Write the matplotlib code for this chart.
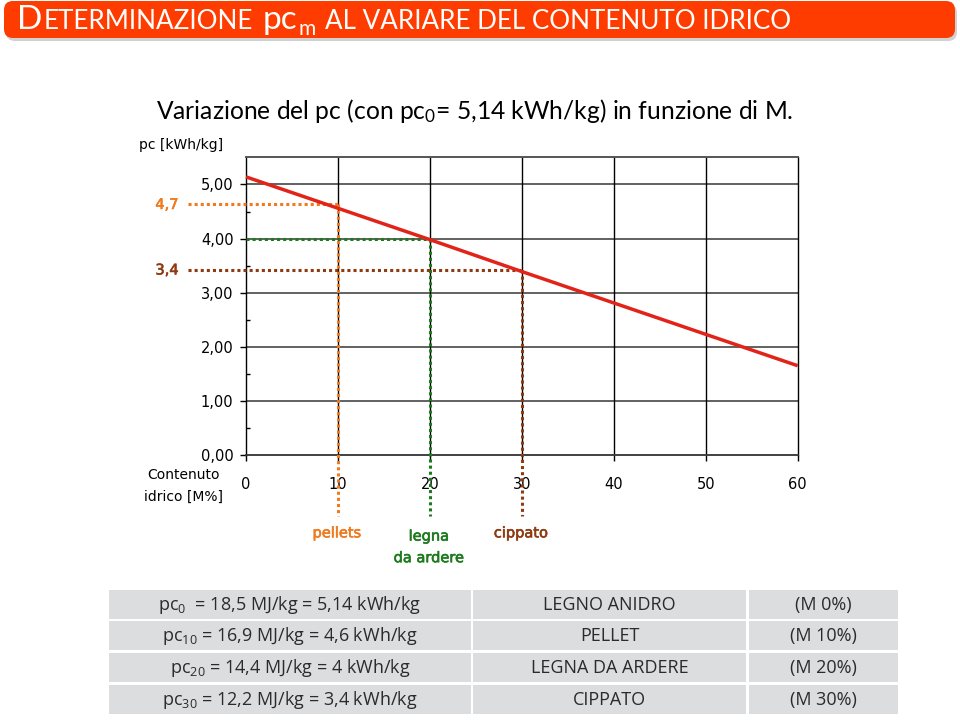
import matplotlib
matplotlib.use("Agg")
import matplotlib.pyplot as plt
import matplotlib.patheffects as pe
from matplotlib.patches import FancyBboxPatch, Rectangle
from matplotlib.ticker import FixedLocator

# ---------------- data ----------------
moisture = [0, 10, 20, 30, 40, 50, 60]
pc_values = [5.14, 4.56, 3.98, 3.39, 2.81, 2.23, 1.65]
x_ticks = [0, 10, 20, 30, 40, 50, 60]
x_tick_labels = ["0", "10", "20", "30", "40", "50", "60"]
y_ticks = [0, 1, 2, 3, 4, 5]
y_tick_labels = ["0,00", "1,00", "2,00", "3,00", "4,00", "5,00"]

fuel_names = ["pellets", "legna\nda ardere", "cippato"]
fuel_moisture = [10, 20, 30]
fuel_pc = [4.63, 4.0, 3.42]
fuel_pc_labels = ["4,7", "", "3,4"]
fuel_colors = ["#F07A1E", "#1F7A1F", "#8E3B12"]

table_col1 = [r"pc$_{0}$  = 18,5 MJ/kg = 5,14 kWh/kg",
              r"pc$_{10}$ = 16,9 MJ/kg = 4,6 kWh/kg",
              r"pc$_{20}$ = 14,4 MJ/kg = 4 kWh/kg",
              r"pc$_{30}$ = 12,2 MJ/kg = 3,4 kWh/kg"]
table_col2 = ["LEGNO ANIDRO", "PELLET", "LEGNA DA ARDERE", "CIPPATO"]
table_col3 = ["(M 0%)", "(M 10%)", "(M 20%)", "(M 30%)"]

# ---------------- figure ----------------
W, H = 960, 721
plt.rcParams['mathtext.default'] = 'regular'
fig = plt.figure(figsize=(W / 100, H / 100), dpi=100)
fig.patch.set_facecolor("white")

# background axes in pixel coordinates
bg = fig.add_axes([0, 0, 1, 1], zorder=0)
bg.set_xlim(0, W)
bg.set_ylim(H, 0)
bg.axis("off")

# title bar
shadow = FancyBboxPatch((6, 4), 951, 37, boxstyle="round,pad=0,rounding_size=9",
                        fc="#9a9a9a", ec="none", alpha=0.45)
bg.add_patch(shadow)
bar = FancyBboxPatch((4, 1), 951, 37, boxstyle="round,pad=0,rounding_size=9",
                     fc="#FE3C00", ec="none")
bg.add_patch(bar)

renderer = fig.canvas.get_renderer()
pieces = [("D", 24, 0, 1), ("ETERMINAZIONE", 18.7, 0, 10), ("pc", 24, 0, 1),
          ("m", 15, 6, 9), ("AL VARIARE DEL CONTENUTO IDRICO", 18.7, 0, 0)]
xcur = 17
for txt, size, dy, gap in pieces:
    t = bg.text(xcur, 29 + dy, txt, fontsize=size, color="white", family="Lato",
                ha="left", va="baseline")
    bb = t.get_window_extent(renderer)
    xcur += bb.width + gap

# chart title
bg.text(475, 119, "Variazione del pc (con pc$_{0}$= 5,14 kWh/kg) in funzione di M.",
        fontsize=17.7, family="Lato", color="black", ha="center", va="baseline")
bg.text(181, 145, "pc [kWh/kg]", fontsize=10, family="DejaVu Sans", color="black",
        ha="center", va="center")
bg.text(184, 486, "Contenuto\nidrico [M%]", fontsize=10, family="DejaVu Sans",
        color="black", ha="center", va="center", linespacing=1.7)

# ---------------- chart axes ----------------
ax = fig.add_axes([246 / W, 1 - 455 / H, (797.7 - 246) / W, (455 - 157.4) / H], zorder=2)
ax.set_facecolor("none")
ax.set_xlim(0, 60)
ax.set_ylim(0, 5.5)
ax.set_xticks(x_ticks)
ax.set_xticklabels(x_tick_labels)
ax.set_yticks(y_ticks)
ax.set_yticklabels(y_tick_labels)
ax.yaxis.set_minor_locator(FixedLocator([0.5, 1.5, 2.5, 3.5, 4.5]))
ax.tick_params(axis="y", which="major", direction="out", length=4, width=1,
               pad=5, labelsize=10.5)
ax.tick_params(axis="y", which="minor", direction="in", length=3, width=1)
ax.tick_params(axis="x", which="major", direction="out", length=4, width=1,
               pad=12, labelsize=10.5)
for v in y_ticks[1:]:
    ax.axhline(v, color="#555555", lw=1.3, zorder=1)
for v in x_ticks[1:-1]:
    ax.axvline(v, color="black", lw=1.0, zorder=1)
for side in ["left", "right"]:
    ax.spines[side].set_color("black")
    ax.spines[side].set_linewidth(1.0)
ax.spines["top"].set_color("#555555")
ax.spines["top"].set_linewidth(1.4)
ax.spines["bottom"].set_color("#333333")
ax.spines["bottom"].set_linewidth(1.3)

ax.plot(moisture, pc_values, color="#E2231A", lw=2.5, solid_capstyle="butt",
        zorder=4, clip_on=False)

guide_bottom = -1.12
label_tops = [-1.30, -1.36, -1.30]
for name, m, p, lab, col, ytop in zip(fuel_names, fuel_moisture, fuel_pc,
                                      fuel_pc_labels, fuel_colors, label_tops):
    left = -6.3 if lab else 0
    ax.plot([left, m], [p, p], color=col, lw=2.2, ls=(0, (1, 1)), clip_on=False, zorder=3)
    ax.plot([m, m], [p, guide_bottom], color=col, lw=2.2, ls=(0, (1, 1)), clip_on=False, zorder=3)
    thick = [pe.withStroke(linewidth=0.45, foreground=col)]
    if lab:
        ax.text(-8.6, p, lab, color=col, fontsize=10.5, ha="center", va="center",
                path_effects=thick)
    ax.text(m - 0.1, ytop, name, color=col, fontsize=10.5,
            ha="center", va="top", linespacing=1.55, path_effects=thick)

# ---------------- table ----------------
row_tops = [590, 621, 653, 685]
row_h = 28.5
cols = [(109, 470.7), (473, 746), (749, 898)]
for r in range(4):
    for c, (x0, x1) in enumerate(cols):
        bg.add_patch(Rectangle((x0, row_tops[r]), x1 - x0, row_h, fc="#DCDDDE", ec="none"))
    yc = row_tops[r] + row_h / 2 + 1
    bg.text((cols[0][0] + cols[0][1]) / 2, yc, table_col1[r], fontsize=13, family="Open Sans",
            color="#2b2b2b", ha="center", va="center")
    bg.text((cols[1][0] + cols[1][1]) / 2, yc, table_col2[r], fontsize=13, family="Open Sans",
            color="#2b2b2b", ha="center", va="center")
    bg.text((cols[2][0] + cols[2][1]) / 2, yc, table_col3[r], fontsize=13, family="Open Sans",
            color="#2b2b2b", ha="center", va="center")

fig.savefig("out.png", dpi=100)
